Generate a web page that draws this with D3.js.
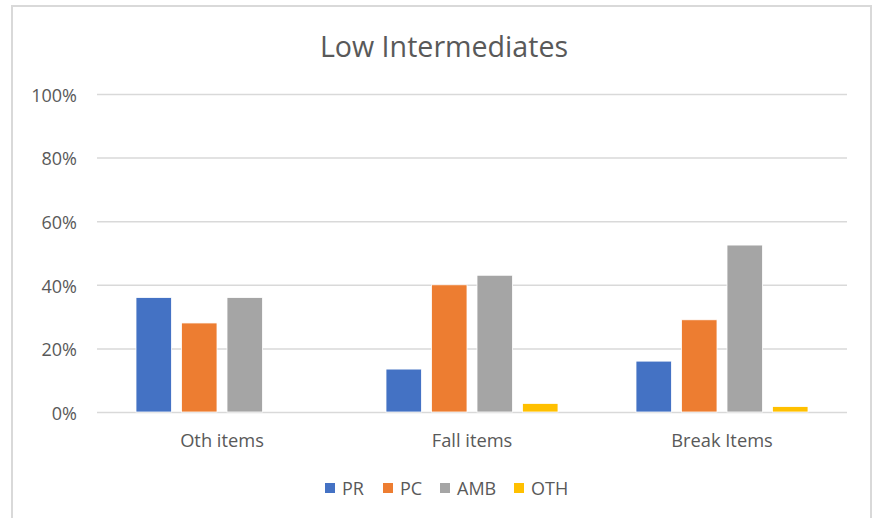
<!DOCTYPE html>
<html lang="en">
<head>
<meta charset="UTF-8">
<title>Low Intermediates</title>
<script src="https://cdn.jsdelivr.net/npm/d3@7"></script>
<style>
  body { margin: 0; background: #fff; }
  svg text { font-family: "Open Sans", "Noto Sans", sans-serif; fill: #595959; }
</style>
</head>
<body>
<div id="chart"></div>
<script>
  // data
  const categories = ["Oth items", "Fall items", "Break Items"];
  const seriesNames = ["PR", "PC", "AMB", "OTH"];
  const seriesColors = ["#4472c4", "#ed7d31", "#a5a5a5", "#ffc000"];
  const PR  = [0.36, 0.135, 0.16];
  const PC  = [0.28, 0.40, 0.29];
  const AMB = [0.36, 0.43, 0.525];
  const OTH = [0, 0.027, 0.017];
  const yTicks = [0, 0.2, 0.4, 0.6, 0.8, 1.0];

  const series = [PR, PC, AMB, OTH];
  const width = 876, height = 518;
  const margin = {top: 94, right: 29, bottom: 106, left: 97};

  const svg = d3.select("#chart").append("svg")
      .attr("width", width)
      .attr("height", height);

  // chart frame
  svg.append("rect")
      .attr("x", 12).attr("y", 6)
      .attr("width", 859).attr("height", 530)
      .attr("fill", "#fff")
      .attr("stroke", "#d9d9d9")
      .attr("stroke-width", 2);

  const x0 = d3.scaleBand()
      .domain(categories)
      .range([margin.left, width - margin.right])
      .paddingInner(0.312)
      .paddingOuter(0.156);

  const x1 = d3.scaleBand()
      .domain(seriesNames)
      .range([0, x0.bandwidth()])
      .paddingInner(0.22);

  const y = d3.scaleLinear()
      .domain([0, 1])
      .range([height - margin.bottom, margin.top]);

  // gridlines + y labels
  const yAxis = svg.append("g")
      .attr("transform", `translate(${margin.left},0)`)
      .call(d3.axisLeft(y)
          .tickValues(yTicks)
          .tickFormat(d3.format(".0%"))
          .tickSize(-(width - margin.left - margin.right))
          .tickPadding(20));
  yAxis.select(".domain").remove();
  yAxis.selectAll(".tick line")
      .attr("stroke", "#d9d9d9")
      .attr("stroke-width", 1.5);
  yAxis.selectAll(".tick text")
      .attr("font-size", 18)
      .attr("dy", "0.4em");

  // bars
  const groups = svg.append("g").selectAll("g")
      .data(categories)
      .join("g")
      .attr("transform", d => `translate(${x0(d)},0)`);

  groups.selectAll("rect")
      .data((c, i) => seriesNames.map((s, j) => ({s, v: series[j][i], color: seriesColors[j]})))
      .join("rect")
      .attr("x", d => x1(d.s))
      .attr("width", x1.bandwidth())
      .attr("y", d => y(d.v))
      .attr("height", d => y(0) - y(d.v))
      .attr("fill", d => d.color)
      .attr("stroke", d => d.v > 0 ? "#fff" : "none")
      .attr("stroke-width", 0.8);

  // x labels
  const xAxis = svg.append("g")
      .attr("transform", `translate(0,${y(0)})`)
      .call(d3.axisBottom(x0).tickSize(0).tickPadding(0));
  xAxis.select(".domain").remove();
  xAxis.selectAll(".tick text")
      .attr("font-size", 18.3)
      .attr("dy", 0)
      .attr("y", 35);

  // title
  svg.append("text")
      .attr("x", 444)
      .attr("y", 57)
      .attr("text-anchor", "middle")
      .attr("font-size", 28.6)
      .text("Low Intermediates");

  // legend
  const legendX = [325, 383, 440, 514];
  const legend = svg.append("g").selectAll("g")
      .data(seriesNames)
      .join("g")
      .attr("transform", (d, i) => `translate(${legendX[i]},${483})`);
  legend.append("rect")
      .attr("width", 10).attr("height", 10)
      .attr("fill", (d, i) => seriesColors[i]);
  legend.append("text")
      .attr("x", 17).attr("y", 11.5)
      .attr("font-size", 18)
      .text(d => d);
</script>
</body>
</html>
